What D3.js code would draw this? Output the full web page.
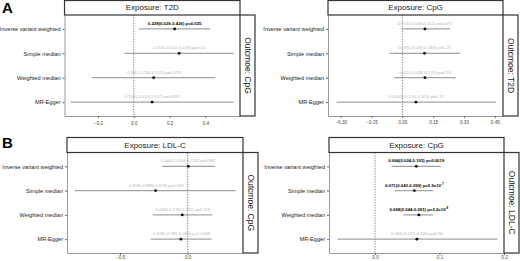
<!DOCTYPE html>
<html>
<head>
<meta charset="utf-8">
<script src="https://cdn.jsdelivr.net/npm/d3@7"></script>
<style>
  body { margin: 0; background: #fff; }
  svg { display: block; font-family: "Liberation Sans", Arial, sans-serif; }
</style>
</head>
<body>
<svg id="chart" width="520" height="261"></svg>
<script>
const methods = ["Inverse variant weighted", "Simple median", "Weighted median", "MR-Egger"];

// A, left: exposure T2D, outcome CpG
const t2dCpgEst = [0.228, 0.253, 0.111, 0.102];
const t2dCpgLo = [0.029, -0.052, -0.234, -0.353];
const t2dCpgHi = [0.426, 0.559, 0.455, 0.557];
const t2dCpgText = ["0.228(0.029-0.426) p=0.025", "0.253(-0.052-0.559) p=0.10", "0.111(-0.234-0.455) p=0.529", "0.102(-0.353-0.557) p=0.659"];
const t2dCpgSig = [true, false, false, false];

// A, right: exposure CpG, outcome T2D
const cpgT2dEst = [0.110, 0.108, 0.110, 0.066];
const cpgT2dLo = [-0.005, -0.062, -0.040, -0.320];
const cpgT2dHi = [0.232, 0.280, 0.260, 0.455];
const cpgT2dText = ["0.072(-0.008-0.152) p=0.077", "0.070(-0.043-0.184) p=0.23", "0.111(-0.028-0.270) p=0.16", "0.0.042(-0.216-0.301) p=0.75"];
const cpgT2dSig = [false, false, false, false];

// B, left: exposure LDL-C, outcome CpG
const ldlCpgEst = [0.005, -0.237, -0.040, -0.050];
const ldlCpgLo = [-0.188, -0.833, -0.259, -0.273];
const ldlCpgHi = [0.202, 0.355, 0.182, 0.177];
const ldlCpgText = ["0.004(-0.204-0.213) p=0.967", "-0.258(-0.888-0.373) p=0.423", "-0.044(-0.279-0.191) p=0.716", "-0.053(-0.295-0.189) p = 0.669"];
const ldlCpgSig = [false, false, false, false];

// B, right: exposure CpG, outcome LDL-C
const cpgLdlEst = [0.064, 0.061, 0.068, 0.065];
const cpgLdlLo = [0.026, 0.031, 0.044, -0.058];
const cpgLdlHi = [0.102, 0.090, 0.090, 0.190];
const cpgLdlText = ["0.064(0.024-0.105) p=0.0019", "0.071(0.043-0.099) p=5.9x10^-7", "0.068(0.044-0.091) p=2.2x10^-8", "0.064(-0.071-0.200) p=0.36"];
const cpgLdlSig = [true, true, true, false];

const panels = [
  { exposure: "T2D", outcome: "CpG", est: t2dCpgEst, lo: t2dCpgLo, hi: t2dCpgHi, text: t2dCpgText, sig: t2dCpgSig,
    x0: 64.5, x1: 240, top: 0.5, y0: 15, y1: 116, pad: 3.5, domain: [-0.387, 0.593], ticks: [-0.2, 0, 0.2, 0.4], fmt: ".1f" },
  { exposure: "CpG", outcome: "T2D", est: cpgT2dEst, lo: cpgT2dLo, hi: cpgT2dHi, text: cpgT2dText, sig: cpgT2dSig,
    x0: 328, x1: 503, top: 0.5, y0: 15, y1: 116, pad: 3, domain: [-0.362, 0.49], ticks: [-0.30, -0.15, 0, 0.15, 0.30, 0.45], fmt: ".2f" },
  { exposure: "LDL-C", outcome: "CpG", est: ldlCpgEst, lo: ldlCpgLo, hi: ldlCpgHi, text: ldlCpgText, sig: ldlCpgSig,
    x0: 67, x1: 243, top: 137.5, y0: 152.5, y1: 253, pad: 1, domain: [-0.892, 0.409], ticks: [-0.5, 0], fmt: ".1f" },
  { exposure: "CpG", outcome: "LDL-C", est: cpgLdlEst, lo: cpgLdlLo, hi: cpgLdlHi, text: cpgLdlText, sig: cpgLdlSig,
    x0: 329, x1: 504, top: 137.5, y0: 152.5, y1: 253, pad: 1, domain: [-0.0713, 0.2], ticks: [0, 0.1, 0.2], fmt: ".1f" }
];

const lineColor = "#a3a3a3";
const greyText = "#b3b3b3";
const axisColor = "#9a9a9a";

const svg = d3.select("#chart");

function drawPanel(p) {
  const g = svg.append("g");
  const x = d3.scaleLinear().domain(p.domain).range([p.x0, p.x1]);
  const y = d3.scalePoint().domain(methods).range([p.y0, p.y1]).padding(0.57);

  const rows = methods.map((m, i) => ({
    method: m, est: p.est[i], lo: p.lo[i], hi: p.hi[i], text: p.text[i], sig: p.sig[i]
  }));

  // axes
  const xAxis = g.append("g")
    .attr("transform", `translate(0,${p.y1})`)
    .call(d3.axisBottom(x).tickValues(p.ticks).tickFormat(d3.format(p.fmt))
      .tickSize(2).tickSizeOuter(0).tickPadding(p.pad));
  const yAxis = g.append("g")
    .attr("transform", `translate(${p.x0},0)`)
    .call(d3.axisLeft(y).tickSize(2).tickSizeOuter(0));
  [xAxis, yAxis].forEach(a => {
    a.select(".domain").attr("stroke", axisColor).attr("stroke-width", 1);
    a.selectAll(".tick line").attr("stroke", "#666");
  });
  xAxis.selectAll("text").attr("font-size", 4.6).attr("fill", "#444")
    .attr("font-family", "Liberation Sans, Arial, sans-serif");
  yAxis.selectAll("text").attr("font-size", 5.6).attr("fill", "#222").attr("x", -4)
    .attr("font-family", "Liberation Sans, Arial, sans-serif");

  // zero reference
  g.append("line")
    .attr("x1", x(0)).attr("x2", x(0))
    .attr("y1", p.y0).attr("y2", p.y1)
    .attr("stroke", "#8a8a8a").attr("stroke-width", 1)
    .attr("stroke-dasharray", "1.4,1.2");

  // confidence intervals
  g.selectAll(".ci").data(rows).enter().append("line")
    .attr("x1", d => x(d.lo)).attr("x2", d => x(d.hi))
    .attr("y1", d => y(d.method)).attr("y2", d => y(d.method))
    .attr("stroke", lineColor).attr("stroke-width", 1.3);

  g.selectAll(".pt").data(rows).enter().append("circle")
    .attr("cx", d => x(d.est)).attr("cy", d => y(d.method))
    .attr("r", 1.4).attr("fill", "#000");

  // estimate labels
  const lab = g.selectAll(".lab").data(rows).enter().append("text")
    .attr("x", d => x(d.est)).attr("y", d => y(d.method) - 4)
    .attr("text-anchor", "middle")
    .attr("font-size", 4.3)
    .attr("font-weight", d => d.sig ? "bold" : "normal")
    .attr("fill", d => d.sig ? "#000" : greyText);
  lab.each(function(d) {
    const parts = d.text.split("^");
    const t = d3.select(this);
    t.append("tspan").text(parts[0]);
    if (parts[1]) t.append("tspan").attr("dy", -1.6).attr("font-size", 3).text(parts[1]);
  });

  // strips
  g.append("rect")
    .attr("x", p.x0).attr("y", p.top)
    .attr("width", p.x1 - p.x0).attr("height", p.y0 - p.top)
    .attr("fill", "#fff").attr("stroke", "#333").attr("stroke-width", 1.2);
  g.append("text")
    .attr("x", (p.x0 + p.x1) / 2).attr("y", (p.top + p.y0) / 2)
    .attr("text-anchor", "middle").attr("dominant-baseline", "central")
    .attr("font-size", 8).attr("fill", "#222")
    .text("Exposure: " + p.exposure);

  g.append("rect")
    .attr("x", p.x1).attr("y", p.y0)
    .attr("width", 15).attr("height", p.y1 - p.y0)
    .attr("fill", "#fff").attr("stroke", "#333").attr("stroke-width", 1.2);
  g.append("text")
    .attr("transform", `translate(${p.x1 + 7.5},${(p.y0 + p.y1) / 2}) rotate(90)`)
    .attr("text-anchor", "middle").attr("dominant-baseline", "central")
    .attr("font-size", 8.5).attr("fill", "#222")
    .text("Outcmoe: " + p.outcome);
}

panels.forEach(drawPanel);

svg.append("text").attr("x", 2).attr("y", 13).attr("font-size", 15).attr("font-weight", "bold").text("A");
svg.append("text").attr("x", 2).attr("y", 148).attr("font-size", 15).attr("font-weight", "bold").text("B");
</script>
</body>
</html>
